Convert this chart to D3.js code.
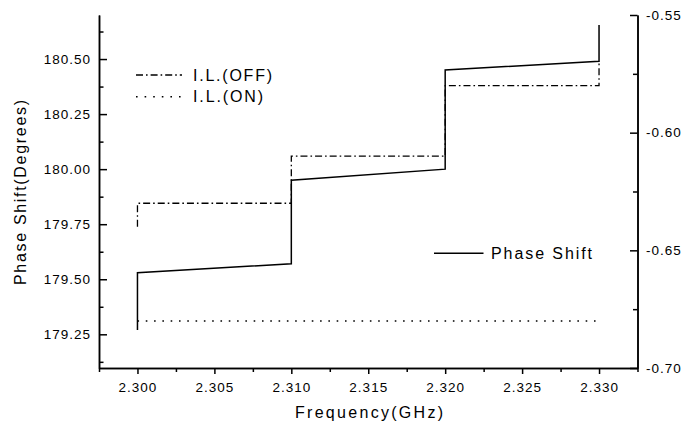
<!DOCTYPE html>
<html>
<head>
<meta charset="utf-8">
<script src="https://cdn.jsdelivr.net/npm/d3@7"></script>
<style>
  html, body { margin: 0; padding: 0; background: #fff; }
  svg { display: block; font-family: "Liberation Sans", Arial, sans-serif; }
  .axis path, .axis line { stroke: #000; stroke-width: 1.5; }
  .axis text { fill: #000; font-size: 13.5px; letter-spacing: 1px; }
</style>
</head>
<body>
<svg id="chart" width="686" height="428"></svg>
<script>
// Frequency sweep points (GHz); repeated values mark the switching steps
const freqPhase = [2.300, 2.300, 2.310, 2.310, 2.320, 2.320, 2.330, 2.330];
const phaseShift = [179.27, 179.53, 179.57, 179.95, 180.00, 180.45, 180.49, 180.655];

const freqOff = [2.300, 2.300, 2.310, 2.310, 2.320, 2.320, 2.330, 2.330];
const ilOff = [-0.640, -0.630, -0.630, -0.610, -0.610, -0.580, -0.580, -0.570];

const freqOn = [2.300, 2.310, 2.320, 2.330];
const ilOn = [-0.680, -0.680, -0.680, -0.680];

// Tick values
const xMajor = [2.300, 2.305, 2.310, 2.315, 2.320, 2.325, 2.330];
const xMinor = [2.2975, 2.3025, 2.3075, 2.3125, 2.3175, 2.3225, 2.3275, 2.3325];
const yLeftMajor = [179.25, 179.50, 179.75, 180.00, 180.25, 180.50];
const yLeftMinor = [179.125, 179.375, 179.625, 179.875, 180.125, 180.375, 180.625];
const yRightMajor = [-0.70, -0.65, -0.60, -0.55];
const yRightMinor = [-0.675, -0.625, -0.575];

const svg = d3.select("#chart");
const plotLeft = 99, plotRight = 637.5, plotTop = 15, plotBottom = 368;

const x = d3.scaleLinear().domain([2.2975, 2.3325]).range([plotLeft, plotRight]);
const yL = d3.scaleLinear().domain([179.097, 180.70]).range([plotBottom, plotTop]);
const yR = d3.scaleLinear().domain([-0.70, -0.55]).range([plotBottom, plotTop]);

// Minor ticks
svg.append("g").attr("class", "axis").attr("transform", `translate(0,${plotBottom})`)
  .call(d3.axisBottom(x).tickValues(xMinor).tickSize(4).tickSizeOuter(0).tickFormat(""));
svg.append("g").attr("class", "axis").attr("transform", `translate(${plotLeft},0)`)
  .call(d3.axisLeft(yL).tickValues(yLeftMinor).tickSize(-4.5).tickSizeOuter(0).tickFormat(""));
svg.append("g").attr("class", "axis").attr("transform", `translate(${plotRight},0)`)
  .call(d3.axisRight(yR).tickValues(yRightMinor).tickSize(-4.5).tickSizeOuter(0).tickFormat(""));

// Major ticks with labels
svg.append("g").attr("class", "axis").attr("transform", `translate(0,${plotBottom})`)
  .call(d3.axisBottom(x).tickValues(xMajor).tickSize(6).tickSizeOuter(0).tickPadding(8)
    .tickFormat(d => d.toFixed(3)));
svg.append("g").attr("class", "axis").attr("transform", `translate(${plotLeft},0)`)
  .call(d3.axisLeft(yL).tickValues(yLeftMajor).tickSize(-8).tickSizeOuter(0).tickPadding(8)
    .tickFormat(d => d.toFixed(2)));
svg.append("g").attr("class", "axis").attr("transform", `translate(${plotRight},0)`)
  .call(d3.axisRight(yR).tickValues(yRightMajor).tickSize(-7.5).tickSizeOuter(0).tickPadding(8.5)
    .tickFormat(d => d.toFixed(2)));

// Series
const lineL = d3.line().x(d => x(d[0])).y(d => yL(d[1]));
const lineR = d3.line().x(d => x(d[0])).y(d => yR(d[1]));

svg.append("path")
  .datum(d3.zip(freqOn, ilOn))
  .attr("d", lineR).attr("fill", "none").attr("stroke", "#000")
  .attr("stroke-width", 1.5).attr("stroke-dasharray", "1.6,6.7");

svg.append("path")
  .datum(d3.zip(freqOff, ilOff))
  .attr("d", lineR).attr("fill", "none").attr("stroke", "#000")
  .attr("stroke-width", 1.3).attr("stroke-dasharray", "7,3,1.6,3");

svg.append("path")
  .datum(d3.zip(freqPhase, phaseShift))
  .attr("d", lineL).attr("fill", "none").attr("stroke", "#000")
  .attr("stroke-width", 1.5);

// Legends
const lg = svg.append("g").attr("font-size", "16px").attr("fill", "#000");

lg.append("line").attr("x1", 136).attr("x2", 182).attr("y1", 75).attr("y2", 75)
  .attr("stroke", "#000").attr("stroke-width", 1.3).attr("stroke-dasharray", "7,3,1.6,3");
lg.append("text").attr("x", 193).attr("y", 80.8).attr("textLength", 79)
  .attr("lengthAdjust", "spacing").text("I.L.(OFF)");

lg.append("line").attr("x1", 136).attr("x2", 182).attr("y1", 96.7).attr("y2", 96.7)
  .attr("stroke", "#000").attr("stroke-width", 1.5).attr("stroke-dasharray", "1.6,7");
lg.append("text").attr("x", 193).attr("y", 102.3).attr("textLength", 70)
  .attr("lengthAdjust", "spacing").text("I.L.(ON)");

lg.append("line").attr("x1", 434).attr("x2", 483.5).attr("y1", 253.3).attr("y2", 253.3)
  .attr("stroke", "#000").attr("stroke-width", 1.5);
lg.append("text").attr("x", 491).attr("y", 259.2).attr("textLength", 101)
  .attr("lengthAdjust", "spacing").text("Phase Shift");

// Axis titles
svg.append("text").attr("x", 369).attr("y", 418).attr("text-anchor", "middle")
  .attr("font-size", "16px").attr("textLength", 148).attr("lengthAdjust", "spacing")
  .text("Frequency(GHz)");

svg.append("text").attr("transform", "translate(25.5,192.5) rotate(-90)")
  .attr("text-anchor", "middle").attr("font-size", "16px")
  .attr("textLength", 185).attr("lengthAdjust", "spacing")
  .text("Phase Shift(Degrees)");
</script>
</body>
</html>
